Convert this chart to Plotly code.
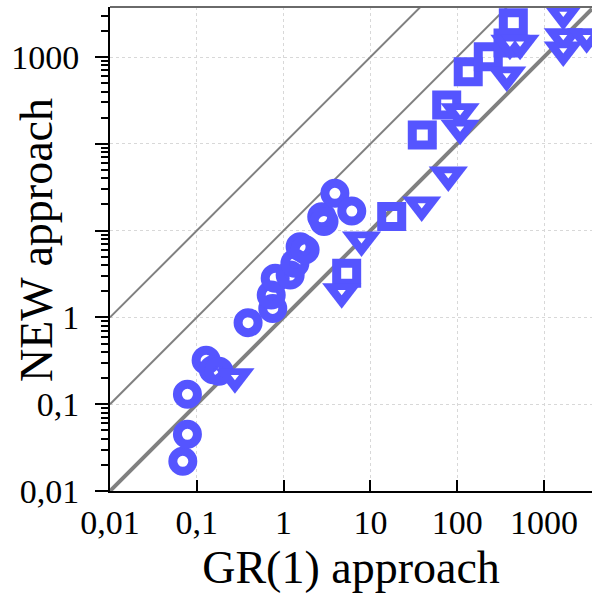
import numpy as np
import plotly.graph_objects as go

# Data (GR(1) approach time vs NEW approach time)
circle_x = [0.069, 0.078, 0.078, 0.128, 0.155, 0.18, 0.39, 0.75, 0.72, 0.80, 1.19, 1.35, 1.55, 1.77, 2.75, 2.92, 3.9, 6.1]
circle_y = [0.022, 0.045, 0.13, 0.32, 0.25, 0.24, 0.87, 1.27, 1.81, 2.82, 3.07, 4.2, 6.5, 6.0, 14.4, 12.7, 26.9, 16.8]

square_x = [5.33, 17.6, 39.6, 75.7, 134, 228, 385, 443]
square_y = [3.22, 14.5, 126, 280, 678, 1006, 1450, 2480]

tri_x = [0.275, 4.67, 7.9, 39, 79, 108, 108, 372, 405, 530, 1667, 1667, 1667, 3100]
tri_y = [0.207, 1.98, 7.8, 19.7, 43.7, 151, 234, 621, 1440, 1440, 3180, 1205, 1714, 1714]

decades = [0.01, 0.1, 1, 10, 100, 1000]
x_ticktext = ["0,01", "0,1", "1", "10", "100", "1000"]
y_ticktext = ["0,01", "0,1", "1", "", "", "1000"]
ref_factors = [1, 10, 100]

X_RANGE = [-2, 3.553]
Y_RANGE = [-2, 3.576]

BLUE = "#5555ff"
FONT = "Liberation Serif"

fig = go.Figure()

# reference diagonals y = k*x
line_x = [10 ** X_RANGE[0], 10 ** X_RANGE[1]]
for k in ref_factors:
    fig.add_trace(go.Scatter(
        x=line_x, y=[v * k for v in line_x], mode="lines",
        line=dict(color="#808080", width=4 if k == 1 else 2),
        hoverinfo="skip", showlegend=False, cliponaxis=True))

mk = dict(size=20, color=BLUE, line=dict(color=BLUE, width=9))
fig.add_trace(go.Scatter(x=circle_x, y=circle_y, mode="markers",
                         marker=dict(symbol="circle-open", **mk), showlegend=False))
fig.add_trace(go.Scatter(x=square_x, y=square_y, mode="markers",
                         marker=dict(symbol="square-open", **mk), showlegend=False))
# open down-triangles with sharp corners: solid blue triangle + small white hole
fig.add_trace(go.Scatter(x=tri_x, y=tri_y, mode="markers",
                         marker=dict(symbol="triangle-down", size=34, color=BLUE,
                                     line=dict(width=0)), showlegend=False))
fig.add_trace(go.Scatter(x=tri_x, y=tri_y, mode="markers", hoverinfo="skip",
                         marker=dict(symbol="triangle-down", size=7, color="white",
                                     line=dict(width=0)), showlegend=False))

minor_vals = [m * d for d in [0.001] + decades + [10000] for m in range(2, 10)]

fig.update_xaxes(
    type="log", range=X_RANGE, automargin=False,
    tickmode="array", tickvals=decades, ticktext=x_ticktext,
    ticks="inside", ticklen=11, tickwidth=1.5, tickcolor="black",
    showline=True, linecolor="black", linewidth=2,
    showgrid=True, gridcolor="#d8d8d8", griddash="dot", gridwidth=1,
    zeroline=False,
    tickfont=dict(family=FONT, size=34, color="black"),
    title=dict(text="GR(1) approach", font=dict(family=FONT, size=46, color="black")),
)
fig.update_yaxes(
    type="log", range=Y_RANGE, automargin=False,
    tickmode="array", tickvals=decades, ticktext=y_ticktext,
    ticks="outside", ticklen=13, tickwidth=1.5, tickcolor="black",
    ticklabelstandoff=9,
    minor=dict(tickmode="array", tickvals=minor_vals, ticks="outside", ticklen=7,
               tickwidth=1.5, tickcolor="black", showgrid=False),
    showline=True, linecolor="black", linewidth=2,
    showgrid=True, gridcolor="#d8d8d8", griddash="dot", gridwidth=1,
    zeroline=False,
    tickfont=dict(family=FONT, size=34, color="black"),
)

fig.add_annotation(text="NEW approach", xref="paper", yref="paper",
                   x=-0.1515, y=0.5186, xanchor="center", yanchor="middle",
                   textangle=-90, showarrow=False,
                   font=dict(family=FONT, size=46, color="black"))

fig.add_shape(type="line", xref="paper", yref="paper", x0=0, x1=1, y0=1, y1=1,
              line=dict(color="#6a6a6a", width=2))

fig.update_layout(
    width=592, height=593,
    margin=dict(l=110, r=0, t=7, b=102),
    paper_bgcolor="white", plot_bgcolor="white",
    font=dict(family=FONT, color="black"),
)

fig.write_html("out.html", config={"displayModeBar": False},
               post_script="document.body.style.margin='0';document.body.style.overflow='hidden';")
